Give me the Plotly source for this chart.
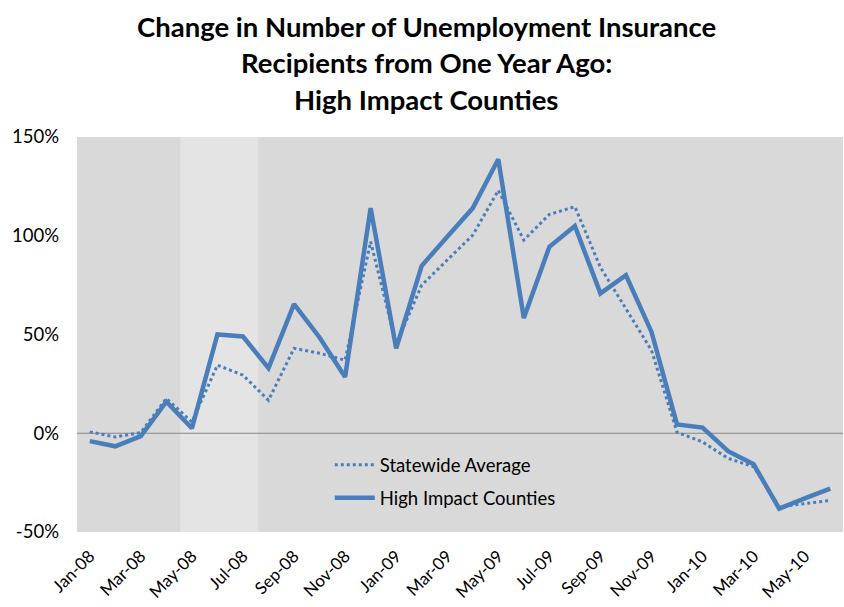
import plotly.graph_objects as go

months = ["Jan-08","Feb-08","Mar-08","Apr-08","May-08","Jun-08","Jul-08","Aug-08","Sep-08","Oct-08","Nov-08","Dec-08",
          "Jan-09","Feb-09","Mar-09","Apr-09","May-09","Jun-09","Jul-09","Aug-09","Sep-09","Oct-09","Nov-09","Dec-09",
          "Jan-10","Feb-10","Mar-10","Apr-10","May-10","Jun-10"]

statewide = [0.7, -1.9, 0.4, 17.6, 5.7, 34.5, 29.4, 16.7, 43, 40.5, 37, 97,
             45, 75, 87.7, 100.3, 123, 97.8, 110.8, 114.7, 84, 63, 42, 0.5,
             -4.4, -12.7, -17, -37.3, -35.5, -34]

high_impact = [-4, -6.6, -1.5, 16, 2.5, 50, 49, 33, 65.4, 48.5, 28.5, 114,
               43, 84.8, 99.5, 114, 138.7, 58.3, 94.4, 104.9, 70.8, 80, 51.3, 4.5,
               2.9, -9.1, -15.7, -38.2, -33, -28]

tick_months = months[0::2]
y_ticks = [-50, 0, 50, 100, 150]
y_tick_text = ["-50%", "0%", "50%", "100%", "150%"]

title_lines = ["Change in Number of Unemployment Insurance",
               "Recipients from One Year Ago:",
               "High Impact Counties"]

FONT = "Lato, 'Open Sans', sans-serif"
BLUE = "#4a7ebb"

fig = go.Figure()
fig.add_trace(go.Scatter(x=months, y=statewide, mode="lines", name="Statewide Average",
                         legendgroup="a", line=dict(color=BLUE, width=3, dash="dot")))
fig.add_trace(go.Scatter(x=months, y=high_impact, mode="lines", name="High Impact Counties",
                         legendgroup="b", line=dict(color=BLUE, width=4.5)))

fig.add_shape(type="rect", xref="x", yref="paper", x0=3.55, x1=6.6, y0=0, y1=1,
              fillcolor="#e4e4e4", line=dict(width=0), layer="below")
fig.add_shape(type="line", xref="paper", yref="y", x0=0, x1=1, y0=0, y1=0,
              line=dict(color="#878787", width=1), layer="below")

# title lines (pixel centers ~25, 62, 99 from top; plot area spans 137..532)
for i, line in enumerate(title_lines):
    ypix = 26 + 37 * i
    fig.add_annotation(text="<b>" + line + "</b>", xref="paper", yref="paper",
                       x=(426 - 77) / 766, y=(532 - ypix) / 395, xanchor="center", yanchor="middle",
                       showarrow=False, font=dict(family=FONT, size=27.5, color="black"))

fig.update_layout(
    width=844, height=607,
    margin=dict(l=77, r=1, t=137, b=75),
    paper_bgcolor="white", plot_bgcolor="#d9d9d9",
    font=dict(family=FONT, size=18, color="black"),
    showlegend=True,
    legend=dict(x=0.33, y=0.217, xanchor="left", yanchor="top", bgcolor="rgba(0,0,0,0)",
                font=dict(family=FONT, size=18.5), tracegroupgap=6, itemwidth=40),
    xaxis=dict(type="category", range=[-0.5, 29.5], tickvals=tick_months, ticktext=tick_months,
               tickangle=-45, showgrid=False, zeroline=False, showline=False, ticks="",
               tickfont=dict(size=17), ticklabelstandoff=10),
    yaxis=dict(range=[-50, 150], tickvals=y_ticks, ticktext=y_tick_text, showgrid=False,
               zeroline=False, showline=False, ticks="", tickfont=dict(size=18.5),
               ticklabelstandoff=17),
)

fig.write_html("out.html")
